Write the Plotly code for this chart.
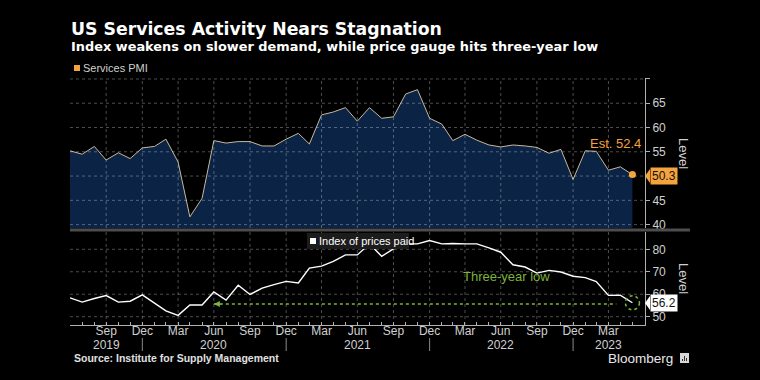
import pandas as pd
import plotly.graph_objects as go

# ---------------- data ----------------
months = pd.date_range("2019-06-30", periods=48, freq="ME")
services_pmi = [55.2, 54.5, 56.1, 53.3, 54.8, 53.6, 55.8,
                56.1, 57.6, 52.9, 41.6, 45.4, 57.3, 56.8, 57.1, 57.1, 56.2, 56.2, 57.6,
                58.8, 56.6, 62.6, 63.2, 64.1, 61.3, 64.1, 61.9, 62.2, 66.9, 67.8, 61.9,
                60.7, 57.3, 58.6, 57.4, 56.4, 56.0, 56.4, 56.2, 55.9, 54.7, 55.5, 49.3,
                55.2, 55.1, 51.2, 51.9, 50.3]
prices_paid = [58.4, 56.5, 58.1, 59.4, 56.5, 56.9, 59.7,
               56.2, 52.6, 50.6, 55.2, 55.2, 61.0, 57.4, 64.0, 59.9, 62.7, 64.3, 65.7,
               65.0, 71.6, 72.5, 74.6, 77.5, 77.5, 82.4, 76.9, 80.2, 82.4, 82.4, 83.9,
               82.4, 82.6, 82.4, 82.4, 80.6, 78.7, 73.1, 72.1, 69.4, 70.6, 69.9, 68.0,
               67.4, 65.6, 59.5, 59.6, 56.2]
estimate = 52.4
low_since = "2020-06-30"

tick_dates = pd.date_range("2019-09-30", "2023-03-31", freq="3ME")
tick_text = [d.strftime("%b") for d in tick_dates]
year_labels = ["2019", "2020", "2021", "2022", "2023"]
year_label_dates = pd.to_datetime(["2019-09-30", "2020-06-30", "2021-06-30",
                                   "2022-06-30", "2023-03-31"])
year_breaks = pd.to_datetime(["2019-12-31", "2020-12-31", "2021-12-31", "2022-12-31"])

top_ticks = [40, 45, 50, 55, 60, 65, 70]
top_ticktext = ["40", "45", "", "55", "60", "65", ""]
bot_ticks = [50, 60, 70, 80]

# ---------------- styling ----------------
BG = "#000000"
NAVY = "#0b2345"
PMI_LINE = "#c8b89a"
ORANGE = "#f5a33c"
GREEN = "#7db43c"
GRID = "rgba(255,255,255,0.3)"
AXIS = "#b0b0b0"
TXT = "#d0d0d0"
FONT = "Liberation Sans"
TFONT = "DejaVu Sans"

W, H = 760, 380
L, R, T, B = 70, 115, 78, 55
PW, PH = W - L - R, H - T - B
TOP_RANGE = [39.3, 70.2]
BOT_RANGE = [46.3, 87.7]


def px_x(px):
    return (px - L) / PW


def px_y(py):
    return (H - B - py) / PH


fig = go.Figure()

fig.add_trace(go.Scatter(
    x=months, y=services_pmi, mode="lines", fill="tozeroy",
    fillcolor=NAVY, line=dict(color=PMI_LINE, width=1),
    xaxis="x", yaxis="y", showlegend=False, name="Services PMI"))
fig.add_trace(go.Scatter(
    x=[months[-1]], y=[services_pmi[-1]], mode="markers",
    marker=dict(color=ORANGE, size=7), xaxis="x", yaxis="y", showlegend=False))
fig.add_trace(go.Scatter(
    x=months, y=prices_paid, mode="lines",
    line=dict(color="#ffffff", width=1.4),
    xaxis="x", yaxis="y2", showlegend=False, name="Index of prices paid"))

shapes = []
# grid (drawn over the area fill in the top panel, as in the original)
for v in top_ticks:
    shapes.append(dict(type="line", xref="paper", yref="y", x0=0, x1=1, y0=v, y1=v,
                       layer="above", line=dict(color=GRID, width=1, dash="dot")))
for d in tick_dates:
    shapes.append(dict(type="line", xref="x", yref="y", x0=d, x1=d,
                       y0=TOP_RANGE[0], y1=TOP_RANGE[1],
                       layer="above", line=dict(color=GRID, width=1, dash="dot")))
for v in bot_ticks:
    shapes.append(dict(type="line", xref="paper", yref="y2", x0=0, x1=1, y0=v, y1=v,
                       layer="below", line=dict(color=GRID, width=1, dash="dot")))
for d in tick_dates:
    shapes.append(dict(type="line", xref="x", yref="y2", x0=d, x1=d,
                       y0=BOT_RANGE[0], y1=BOT_RANGE[1],
                       layer="below", line=dict(color=GRID, width=1, dash="dot")))
# separator between panels
shapes.append(dict(type="line", xref="paper", yref="paper",
                   x0=0, x1=px_x(690), y0=px_y(230), y1=px_y(230),
                   line=dict(color="#4d4d4d", width=3)))
# year separators below axis
for d in year_breaks:
    shapes.append(dict(type="line", xref="x", yref="paper",
                       x0=d, x1=d, y0=px_y(338), y1=px_y(351),
                       line=dict(color="#8a8a8a", width=1)))
# dotted three-year-low line
shapes.append(dict(type="line", xref="x", yref="y2",
                   x0=low_since, x1="2023-04-20", y0=55.6, y1=55.6,
                   line=dict(color=GREEN, width=1.5, dash="dot")))
# dotted circle round last point
shapes.append(dict(type="circle", xref="x", yref="y2",
                   xsizemode="pixel", ysizemode="pixel",
                   xanchor=months[-1], yanchor=prices_paid[-1],
                   x0=-7, x1=7, y0=-7, y1=7,
                   line=dict(color=GREEN, width=1.5, dash="dot")))
# tag tips
shapes.append(dict(type="path", xref="paper", yref="paper",
                   path=f"M {px_x(645)} {px_y(176)} L {px_x(650)} {px_y(169)} L {px_x(650)} {px_y(183)} Z",
                   fillcolor=ORANGE, line=dict(width=0)))
shapes.append(dict(type="path", xref="paper", yref="paper",
                   path=f"M {px_x(645)} {px_y(303)} L {px_x(650)} {px_y(296)} L {px_x(650)} {px_y(310)} Z",
                   fillcolor="#ffffff", line=dict(width=0)))
# legend swatches
shapes.append(dict(type="rect", xref="paper", yref="paper",
                   x0=px_x(74), x1=px_x(80), y0=px_y(71), y1=px_y(65),
                   fillcolor=ORANGE, line=dict(width=0)))
shapes.append(dict(type="rect", xref="paper", yref="paper",
                   x0=px_x(307), x1=px_x(409), y0=px_y(249), y1=px_y(233),
                   fillcolor="#1c1c1c", line=dict(width=0)))
shapes.append(dict(type="rect", xref="paper", yref="paper",
                   x0=px_x(310), x1=px_x(316), y0=px_y(244), y1=px_y(238),
                   fillcolor="#ffffff", line=dict(width=0)))
# Bloomberg logo
shapes.append(dict(type="rect", xref="paper", yref="paper",
                   x0=px_x(680), x1=px_x(689), y0=px_y(363), y1=px_y(353),
                   fillcolor="#d8d8d8", line=dict(width=0)))
for bx, btop in [(682.5, 359), (684.5, 356), (686.5, 358)]:
    shapes.append(dict(type="line", xref="paper", yref="paper",
                       x0=px_x(bx), x1=px_x(bx), y0=px_y(361), y1=px_y(btop),
                       line=dict(color="#333333", width=1)))

annotations = [
    dict(text="<b>US Services Activity Nears Stagnation</b>", xref="paper", yref="paper",
         x=px_x(69), y=px_y(29), xanchor="left", yanchor="middle", showarrow=False,
         font=dict(size=17.3, color="#ffffff", family=TFONT)),
    dict(text="<b>Index weakens on slower demand, while price gauge hits three-year low</b>",
         xref="paper", yref="paper", x=px_x(69), y=px_y(46), xanchor="left",
         yanchor="middle", showarrow=False,
         font=dict(size=12.9, color="#ffffff", family=TFONT)),
    dict(text="Services PMI", xref="paper", yref="paper", x=px_x(81), y=px_y(68),
         xanchor="left", yanchor="middle", showarrow=False,
         font=dict(size=11, color=TXT, family=FONT)),
    dict(text="Index of prices paid", xref="paper", yref="paper", x=px_x(317), y=px_y(241),
         xanchor="left", yanchor="middle", showarrow=False,
         font=dict(size=11, color="#ffffff", family=FONT)),
    dict(text=f"Est. {estimate}", xref="paper", yref="y", x=px_x(643), y=56.8,
         xanchor="right", yanchor="middle", showarrow=False,
         font=dict(size=13, color=ORANGE, family=FONT)),
    dict(text=f"{services_pmi[-1]}", xref="paper", yref="paper", x=px_x(650), y=px_y(176),
         xanchor="left", yanchor="middle", showarrow=False, bgcolor=ORANGE, borderpad=1,
         font=dict(size=12, color="#111111", family=FONT)),
    dict(text=f"{prices_paid[-1]}", xref="paper", yref="paper", x=px_x(650), y=px_y(303),
         xanchor="left", yanchor="middle", showarrow=False, bgcolor="#ffffff", borderpad=1,
         font=dict(size=12, color="#111111", family=FONT)),
    dict(text="Level", xref="paper", yref="paper", x=px_x(684), y=px_y(153),
         xanchor="center", yanchor="middle",
         textangle=90, showarrow=False, font=dict(size=13, color=TXT, family=FONT)),
    dict(text="Level", xref="paper", yref="paper", x=px_x(684), y=px_y(278),
         xanchor="center", yanchor="middle",
         textangle=90, showarrow=False, font=dict(size=13, color=TXT, family=FONT)),
    dict(text="Three-year low", xref="x", yref="paper", x="2022-07-15", y=px_y(286),
         showarrow=False, font=dict(size=13, color=GREEN, family=FONT)),
    dict(text="", xref="x", yref="y2", x=low_since, y=55.6, ax=9, ay=0,
         showarrow=True, arrowhead=2, arrowsize=1, arrowwidth=1.2, arrowcolor=GREEN),
    dict(text="<b>Source: Institute for Supply Management</b>", xref="paper", yref="paper",
         x=px_x(72), y=px_y(358), xanchor="left", yanchor="middle", showarrow=False,
         font=dict(size=10.5, color="#e0e0e0", family=FONT)),
    dict(text="Bloomberg", xref="paper", yref="paper", x=px_x(675), y=px_y(358),
         xanchor="right", yanchor="middle", showarrow=False,
         font=dict(size=13.5, color="#e8e8e8", family=FONT)),
]
for lab, d in zip(year_labels, year_label_dates):
    annotations.append(dict(text=lab, xref="x", yref="paper", x=d, y=px_y(345),
                            xanchor="center", yanchor="middle", showarrow=False,
                            font=dict(size=12, color=TXT, family=FONT)))

fig.update_layout(
    width=W, height=H, margin=dict(l=L, r=R, t=T, b=B),
    paper_bgcolor=BG, plot_bgcolor=BG,
    font=dict(family=FONT, color=TXT, size=12),
    shapes=shapes, annotations=annotations, showlegend=False,
    xaxis=dict(type="date", anchor="y2", range=["2019-06-30", "2023-07-02"],
               tickmode="array", tickvals=tick_dates, ticktext=tick_text,
               showgrid=False, showline=True, linecolor=AXIS, linewidth=1,
               ticks="inside", ticklen=3, tickcolor=AXIS, ticklabelstandoff=-5,
               minor=dict(ticks="inside", ticklen=3, tickcolor=AXIS,
                          dtick="M1", tick0="2019-06-30", showgrid=False),
               tickfont=dict(size=12, color=TXT), zeroline=False),
    yaxis=dict(domain=[px_y(228), 1.0], side="right", anchor="x",
               range=TOP_RANGE, tickmode="array", tickvals=top_ticks,
               ticktext=top_ticktext, showgrid=False, showline=True,
               linecolor=AXIS, ticks="outside", ticklen=4, tickcolor=AXIS,
               tickfont=dict(size=12, color=TXT), zeroline=False),
    yaxis2=dict(domain=[0, px_y(232)], side="right", anchor="x",
                range=BOT_RANGE, tickmode="array", tickvals=bot_ticks,
                showgrid=False, showline=True, linecolor=AXIS, ticks="outside",
                ticklen=4, tickcolor=AXIS, tickfont=dict(size=12, color=TXT),
                zeroline=False),
)

fig.write_html("out.html", config={"displayModeBar": False},
               post_script="document.body.style.margin='0';document.body.style.background='#000';")
